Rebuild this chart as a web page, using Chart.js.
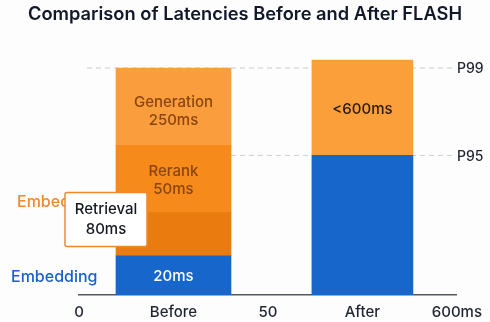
<!DOCTYPE html>
<html>
<head>
<meta charset="utf-8">
<script src="https://cdn.jsdelivr.net/npm/chart.js"></script>
<style>
  html, body { margin: 0; padding: 0; background: #fdfdfe; }
  #wrap { width: 490px; height: 322px; }
</style>
</head>
<body>
<div id="wrap"><canvas id="latency-chart"></canvas></div>
<script>
// x categories (tick labels along the bottom)
const categories = ['0', 'Before', '50', 'After', '600ms'];

// stacked segment heights (px-ish units)
const embedding  = [null, 39, null, null, null];
const retrieval  = [null, 43, null, null, null];
const rerank     = [null, 67, null, null, null];
const generation = [null, 77, null, null, null];
const afterP95   = [null, null, null, 139, null];
const afterP99   = [null, null, null, 95, null];

// text shown on the segments
const segmentText = {
  embedding: ['20ms'],
  retrieval: ['Retrieval', '80ms'],
  rerank: ['Rerank', '50ms'],
  generation: ['Generation', '250ms'],
  afterP99: ['<600ms']
};

// percentile guide lines
const p95 = 139;
const p99 = 226;

const FONT = 'Inter, "Noto Sans", sans-serif';

const guides = {
  id: 'guides',
  beforeDatasetsDraw(chart) {
    const ctx = chart.ctx, y = chart.scales.y, area = chart.chartArea;
    const beforeBar = chart.getDatasetMeta(0).data[1];
    ctx.save();
    ctx.strokeStyle = '#c9ccd1';
    ctx.lineWidth = 1;
    ctx.setLineDash([5, 4]);
    ctx.beginPath();
    ctx.moveTo(area.left + 8, y.getPixelForValue(p99));
    ctx.lineTo(area.right - 4, y.getPixelForValue(p99));
    ctx.moveTo(beforeBar.x + beforeBar.width / 2, y.getPixelForValue(p95));
    ctx.lineTo(area.right - 4, y.getPixelForValue(p95));
    ctx.stroke();
    ctx.restore();
  },
  afterDatasetsDraw(chart) {
    const ctx = chart.ctx, y = chart.scales.y, area = chart.chartArea;
    ctx.save();
    ctx.textBaseline = 'middle';

    // right-side percentile labels
    ctx.font = '500 14px ' + FONT;
    ctx.fillStyle = '#1f2430';
    ctx.textAlign = 'left';
    ctx.fillText('P99', area.right, y.getPixelForValue(p99) + 1);
    ctx.fillText('P95', area.right, y.getPixelForValue(p95) + 1);

    // labels inside segments
    const put = (dsIndex, idx, lines, color, dy) => {
      const bar = chart.getDatasetMeta(dsIndex).data[idx];
      const mid = (bar.y + bar.base) / 2 + (dy || 0);
      ctx.fillStyle = color;
      ctx.textAlign = 'center';
      ctx.font = '500 15px ' + FONT;
      lines.forEach((t, i) => {
        ctx.fillText(t, bar.x, mid + (i - (lines.length - 1) / 2) * 18);
      });
    };
    put(0, 1, segmentText.embedding, '#ffffff', 1);
    put(2, 1, segmentText.rerank, '#8a4510', 1);
    put(3, 1, segmentText.generation, '#8a4510', 5);
    put(5, 3, segmentText.afterP99, '#2b1a08', 2);

    // left-side labels
    ctx.textAlign = 'left';
    ctx.font = '500 16px ' + FONT;
    ctx.fillStyle = '#f0892a';
    ctx.fillText('Embedding', 17, y.getPixelForValue(92));
    ctx.fillStyle = '#1a5fd0';
    ctx.fillText('Embedding', 11, y.getPixelForValue(18));

    // retrieval callout box
    const bx = 65, by = y.getPixelForValue(102), bw = 82, bh = 54;
    ctx.fillStyle = '#ffffff';
    ctx.strokeStyle = '#f0892a';
    ctx.lineWidth = 1.5;
    ctx.beginPath();
    ctx.roundRect(bx, by, bw, bh, 2);
    ctx.fill();
    ctx.stroke();
    ctx.fillStyle = '#141820';
    ctx.textAlign = 'center';
    ctx.font = '500 15px ' + FONT;
    ctx.fillText(segmentText.retrieval[0], bx + bw / 2, by + 17);
    ctx.fillText(segmentText.retrieval[1], bx + bw / 2, by + 37);
    ctx.restore();
  }
};

// empty side axes just reserve room, so the title keeps the full width
const sideAxis = (pos, w) => ({
  position: pos,
  display: true,
  min: 0,
  max: 240,
  grid: { display: false, drawTicks: false },
  border: { display: false },
  ticks: { display: false },
  afterFit(scale) { scale.width = w; }
});

new Chart(document.getElementById('latency-chart'), {
  type: 'bar',
  data: {
    labels: categories,
    datasets: [
      { label: 'Embedding', data: embedding, backgroundColor: '#1766cc', barThickness: 115 },
      { label: 'Retrieval', data: retrieval, backgroundColor: '#ea7c0f', barThickness: 115 },
      { label: 'Rerank', data: rerank, backgroundColor: '#f68b1c', barThickness: 115 },
      { label: 'Generation', data: generation, backgroundColor: '#fa9d3c', barThickness: 115 },
      { label: 'After P95', data: afterP95, backgroundColor: '#1766cc', barThickness: 101 },
      { label: 'After P99', data: afterP99, backgroundColor: '#fb9f3a', barThickness: 101 }
    ]
  },
  options: {
    responsive: true,
    maintainAspectRatio: false,
    animation: false,
    layout: { padding: { left: 0, right: 0, top: 0, bottom: -7 } },
    plugins: {
      legend: { display: false },
      tooltip: { enabled: false },
      title: {
        display: true,
        text: 'Comparison of Latencies Before and After FLASH',
        color: '#111827',
        font: { family: FONT, size: 18.3, weight: '600' },
        padding: { top: 4, bottom: 28 }
      }
    },
    scales: {
      x: {
        stacked: true,
        offset: false,
        grid: { display: false, drawTicks: false },
        border: { display: true, color: '#555a60', width: 1.5 },
        ticks: { color: '#1f2430', font: { family: FONT, size: 15, weight: '500' }, padding: 8, maxRotation: 0, autoSkip: false }
      },
      y: Object.assign(sideAxis('left', 79), { stacked: true }),
      yR: sideAxis('right', 30)
    }
  },
  plugins: [guides]
});
</script>
</body>
</html>
